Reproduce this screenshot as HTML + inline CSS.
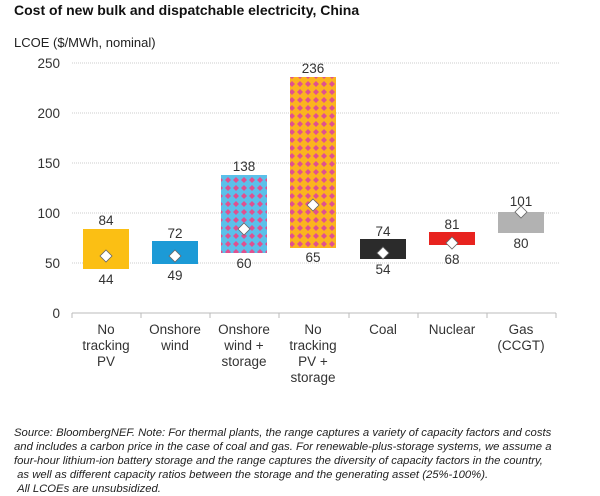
<!DOCTYPE html>
<html><head><meta charset="utf-8"><style>
body{margin:0;background:#fff;width:600px;height:492px;overflow:hidden;font-family:"Liberation Sans",sans-serif}
.note{position:absolute;left:14px;top:426px;font-size:11.3px;font-style:italic;color:#222;line-height:14px;width:600px;white-space:nowrap}
</style></head><body>
<svg width="600" height="492" style="position:absolute;left:0;top:0" font-family="Liberation Sans, sans-serif">
<defs>
<pattern id="pb" width="8" height="8" patternUnits="userSpaceOnUse"><rect width="8" height="8" fill="#5bc0ea"/><path d="M4 1L7 4 4 7 1 4Z" fill="#e0508f"/></pattern>
<pattern id="po" width="8" height="8" patternUnits="userSpaceOnUse"><rect width="8" height="8" fill="#fbb41e"/><path d="M4 1L7 4 4 7 1 4Z" fill="#e0508f"/></pattern>
</defs>
<text x="14" y="15" font-size="14" font-weight="bold" fill="#111">Cost of new bulk and dispatchable electricity, China</text>
<text x="14" y="47" font-size="13" fill="#222">LCOE ($/MWh, nominal)</text>
<g stroke="#ccc" stroke-dasharray="1,1">
<line x1="72" y1="63" x2="560" y2="63"/><line x1="72" y1="113" x2="560" y2="113"/><line x1="72" y1="163" x2="560" y2="163"/><line x1="72" y1="213" x2="560" y2="213"/><line x1="72" y1="263" x2="560" y2="263"/>
</g>
<line x1="72" y1="313" x2="556" y2="313" stroke="#bbb"/>
<g stroke="#bbb"><line x1="72" y1="313" x2="72" y2="318"/><line x1="141" y1="313" x2="141" y2="318"/><line x1="210" y1="313" x2="210" y2="318"/><line x1="279" y1="313" x2="279" y2="318"/><line x1="349" y1="313" x2="349" y2="318"/><line x1="418" y1="313" x2="418" y2="318"/><line x1="487" y1="313" x2="487" y2="318"/><line x1="556" y1="313" x2="556" y2="318"/></g>
<g font-size="13.5" fill="#333" text-anchor="end">
<text x="60" y="68">250</text><text x="60" y="118">200</text><text x="60" y="168">150</text><text x="60" y="218">100</text><text x="60" y="268">50</text><text x="60" y="318">0</text>
</g>
<rect x="83" y="229" width="46" height="40" fill="#fbbf14"/>
<rect x="152" y="241" width="46" height="23" fill="#1c9ad6"/>
<rect x="221" y="175" width="46" height="78" fill="url(#pb)"/>
<rect x="290" y="77" width="46" height="171" fill="url(#po)"/>
<rect x="360" y="239" width="46" height="20" fill="#2b2b2b"/>
<rect x="429" y="232" width="46" height="13" fill="#e8231f"/>
<rect x="498" y="212" width="46" height="21" fill="#b2b2b2"/>
<g fill="#fff" stroke="#666" stroke-width="0.8">
<path d="M106 250l6 6-6 6-6-6z"/><path d="M175 250l6 6-6 6-6-6z"/><path d="M244 223l6 6-6 6-6-6z"/><path d="M313 199l6 6-6 6-6-6z"/><path d="M383 247l6 6-6 6-6-6z"/><path d="M452 237l6 6-6 6-6-6z"/><path d="M521 206l6 6-6 6-6-6z"/>
</g>
<g font-size="13.5" fill="#333" text-anchor="middle">
<text x="106" y="225">84</text><text x="106" y="284">44</text>
<text x="175" y="238">72</text><text x="175" y="280">49</text>
<text x="244" y="171">138</text><text x="244" y="268">60</text>
<text x="313" y="73">236</text><text x="313" y="262">65</text>
<text x="383" y="236">74</text><text x="383" y="274">54</text>
<text x="452" y="229">81</text><text x="452" y="264">68</text>
<text x="521" y="206">101</text><text x="521" y="248">80</text>
</g>
<g font-size="13.5" fill="#333" text-anchor="middle">
<text x="106" y="334">No</text><text x="106" y="350">tracking</text><text x="106" y="366">PV</text>
<text x="175" y="334">Onshore</text><text x="175" y="350">wind</text>
<text x="244" y="334">Onshore</text><text x="244" y="350">wind +</text><text x="244" y="366">storage</text>
<text x="313" y="334">No</text><text x="313" y="350">tracking</text><text x="313" y="366">PV +</text><text x="313" y="382">storage</text>
<text x="383" y="334">Coal</text>
<text x="452" y="334">Nuclear</text>
<text x="521" y="334">Gas</text><text x="521" y="350">(CCGT)</text>
</g>
</svg>
<div class="note">Source: BloombergNEF. Note: For thermal plants, the range captures a variety of capacity factors and costs<br>and includes a carbon price in the case of coal and gas. For renewable-plus-storage systems, we assume a<br>four-hour lithium-ion battery storage and the range captures the diversity of capacity factors in the country,<br>&nbsp;as well as different capacity ratios between the storage and the generating asset (25%-100%).<br>&nbsp;All LCOEs are unsubsidized.</div>
</body></html>
